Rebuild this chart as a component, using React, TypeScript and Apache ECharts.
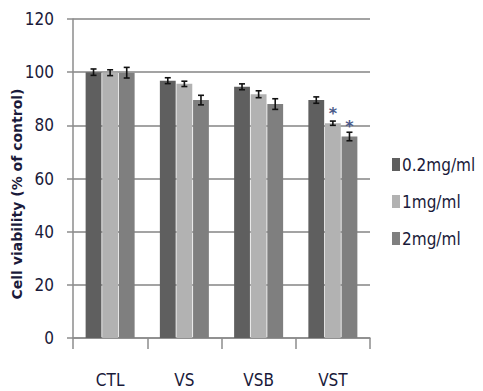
import React, { useEffect, useRef } from "react";
import * as echarts from "echarts";

const categories = ["CTL", "VS", "VSB", "VST"];
const seriesNames = ["0.2mg/ml", "1mg/ml", "2mg/ml"];
const values02 = [100, 96.8, 94.5, 89.5];
const values1 = [99.8, 95.6, 91.7, 80.8];
const values2 = [99.8, 89.5, 88.0, 75.8];
const errors02 = [1.2, 1.1, 1.1, 1.2];
const errors1 = [1.1, 1.0, 1.3, 0.8];
const errors2 = [2.0, 1.8, 2.0, 1.6];
const sig02 = [false, false, false, false];
const sig1 = [false, false, false, true];
const sig2 = [false, false, false, true];
const colors = ["#5f5f5f", "#b2b2b2", "#7f7f7f"];
const yTicks = [0, 20, 40, 60, 80, 100, 120];
const yTitle = "Cell viability (% of control)";

const NARROW = "'DejaVu Sans Condensed', sans-serif";
const CAT_GAP = 0.34;
const BAR_GAP = 0.05;
const TEXT = "#1a1a3a";

export default function App() {
  const ref = useRef<HTMLDivElement>(null);
  useEffect(() => {
    if (!ref.current) return;
    const chart = echarts.init(ref.current, null, { renderer: "svg" });
    const allValues = [values02, values1, values2];
    const allErrors = [errors02, errors1, errors2];
    const allSig = [sig02, sig1, sig2];

    const barSeries = seriesNames.map((name, si) => ({
      name,
      type: "bar",
      barGap: BAR_GAP * 100 + "%",
      barCategoryGap: CAT_GAP * 100 + "%",
      itemStyle: { color: colors[si] },
      data: allValues[si].map((v, i) =>
        allSig[si][i]
          ? {
              value: v,
              label: {
                show: true,
                position: "top",
                distance: 2,
                formatter: "*",
                fontSize: 16,
                fontWeight: "bold",
                color: "#4a5a8a",
                fontFamily: "DejaVu Sans",
              },
            }
          : v
      ),
      z: 2,
    }));

    const errData: number[][] = [];
    allValues.forEach((arr, si) =>
      arr.forEach((v, i) => errData.push([i, v, allErrors[si][i], si]))
    );

    const errSeries = {
      type: "custom",
      name: "err",
      z: 5,
      data: errData,
      renderItem: (params: any, api: any) => {
        const ci = api.value(0);
        const v = api.value(1);
        const e = api.value(2);
        const si = api.value(3);
        const bw = api.size([1, 0])[0];
        const w = (bw * (1 - CAT_GAP)) / (3 + 2 * BAR_GAP);
        const center = api.coord([ci, v])[0];
        const x = center + (si - 1) * w * (1 + BAR_GAP);
        const yTop = api.coord([ci, v + e])[1];
        const yBot = api.coord([ci, v - e])[1];
        const cap = 3;
        const style = { stroke: "#111", lineWidth: 1.6 };
        return {
          type: "group",
          children: [
            { type: "line", shape: { x1: x, y1: yTop, x2: x, y2: yBot }, style },
            { type: "line", shape: { x1: x - cap, y1: yTop, x2: x + cap, y2: yTop }, style },
            { type: "line", shape: { x1: x - cap, y1: yBot, x2: x + cap, y2: yBot }, style },
          ],
        };
      },
    };

    chart.setOption({
      animation: false,
      backgroundColor: "#ffffff",
      grid: { left: 73, right: 113, top: 19, bottom: 53, containLabel: false },
      legend: {
        orient: "vertical",
        left: 387,
        top: 151,
        itemWidth: 8,
        itemHeight: 13,
        itemGap: 20,
        data: seriesNames,
        icon: "rect",
        textStyle: { fontSize: 17, fontFamily: NARROW, color: TEXT, padding: [0, 0, 0, -3] },
      },
      graphic: [
        {
          type: "text",
          x: 17,
          y: 194,
          rotation: Math.PI / 2,
          style: {
            text: yTitle,
            align: "center",
            verticalAlign: "middle",
            fontSize: 14,
            fontFamily: "DejaVu Sans",
            fontWeight: 600,
            fill: TEXT,
          },
        },
      ],
      xAxis: {
        type: "category",
        data: categories,
        axisLine: { lineStyle: { color: "#8c8c8c", width: 1.5 } },
        axisTick: { show: true, length: 11, lineStyle: { color: "#8c8c8c", width: 1.5 } },
        axisLabel: { fontSize: 17, fontFamily: NARROW, color: TEXT, margin: 33 },
      },
      yAxis: {
        type: "value",
        min: yTicks[0],
        max: yTicks[yTicks.length - 1],
        interval: 20,
        axisLine: { show: true, lineStyle: { color: "#8c8c8c", width: 1.5 } },
        axisTick: { show: true, length: 6, lineStyle: { color: "#8c8c8c", width: 1.5 } },
        axisLabel: { fontSize: 17, fontFamily: NARROW, color: TEXT, margin: 19 },
        splitLine: { lineStyle: { color: "#a3a3a3", width: 2 } },
      },
      series: [...barSeries, errSeries],
    });
    return () => chart.dispose();
  }, []);
  return <div ref={ref} style={{ width: 483, height: 391, position: "absolute", left: 0, top: 0 }} />;
}
